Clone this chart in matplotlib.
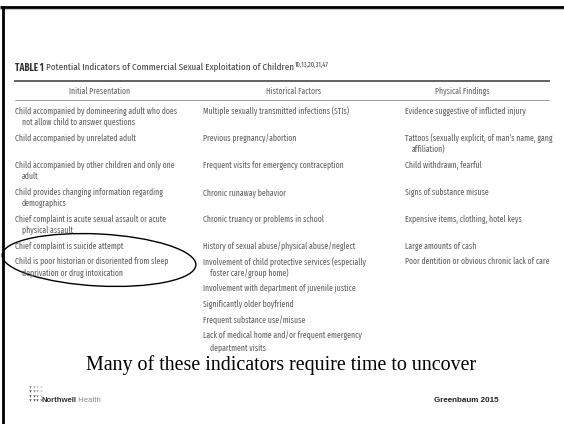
import matplotlib
matplotlib.use("Agg")
import matplotlib.pyplot as plt
from matplotlib.patches import Ellipse
from matplotlib import font_manager

# ---------------- data ----------------
table_title = "TABLE 1"
table_subtitle = "Potential Indicators of Commercial Sexual Exploitation of Children"
table_refs = "10,13,20,31,47"
headers = ["Initial Presentation", "Historical Factors", "Physical Findings"]

initial_presentation = [
    ["Child accompanied by domineering adult who does", "not allow child to answer questions"],
    ["Child accompanied by unrelated adult"],
    ["Child accompanied by other children and only one", "adult"],
    ["Child provides changing information regarding", "demographics"],
    ["Chief complaint is acute sexual assault or acute", "physical assault"],
    ["Chief complaint is suicide attempt"],
    ["Child is poor historian or disoriented from sleep", "deprivation or drug intoxication"],
]
historical_factors = [
    ["Multiple sexually transmitted infections (STIs)"],
    ["Previous pregnancy/abortion"],
    ["Frequent visits for emergency contraception"],
    ["Chronic runaway behavior"],
    ["Chronic truancy or problems in school"],
    ["History of sexual abuse/physical abuse/neglect"],
    ["Involvement of child protective services (especially", "foster care/group home)"],
    ["Involvement with department of juvenile justice"],
    ["Significantly older boyfriend"],
    ["Frequent substance use/misuse"],
    ["Lack of medical home and/or frequent emergency", "department visits"],
]
physical_findings = [
    ["Evidence suggestive of inflicted injury"],
    ["Tattoos (sexually explicit, of man\u2019s name, gang", "affiliation)"],
    ["Child withdrawn, fearful"],
    ["Signs of substance misuse"],
    ["Expensive items, clothing, hotel keys"],
    ["Large amounts of cash"],
    ["Poor dentition or obvious chronic lack of care"],
]
caption = "Many of these indicators require time to uncover"
logo_bold = "Northwell"
logo_light = " Health"
citation = "Greenbaum 2015"

# ---------------- fonts ----------------
names = {f.name for f in font_manager.fontManager.ttflist}
def pick(cands):
    return [n for n in cands if n in names] + ["DejaVu Sans"]
cond = pick(["Fira Sans Extra Condensed", "PT Sans Narrow", "Archivo Narrow", "Roboto Condensed"])
serif = pick(["Liberation Serif", "DejaVu Serif"])
sans = pick(["Liberation Sans"])

W, H = 564, 424
fig = plt.figure(figsize=(W / 100, H / 100), dpi=100)
ax = fig.add_axes([0, 0, 1, 1])
ax.set_xlim(0, W)
ax.set_ylim(H, 0)
ax.axis("off")
renderer = fig.canvas.get_renderer()

def width_at(text, size, **kw):
    t = ax.text(0, 0, text, fontsize=size, **kw)
    w = t.get_window_extent(renderer).width
    t.remove()
    return w

def fit_size(text, target, **kw):
    return 10.0 * target / width_at(text, 10.0, **kw)

# slide border
ax.plot([0, W], [7, 7], color="black", lw=2.0, solid_capstyle="butt")
ax.plot([0, W], [9, 9], color="#bbbbbb", lw=0.6)
ax.plot([3, 3], [6, H], color="black", lw=2.0, solid_capstyle="butt")

body_col = "#606060"
body_kw = dict(family=cond, fontweight="normal")
fs = fit_size(initial_presentation[0][0], 162, **body_kw)

# title
title_kw = dict(family=cond)
full_w = (width_at(table_title, 10, fontweight="bold", **title_kw) +
          width_at(" " + table_subtitle, 10, **title_kw))
tfs = 10.0 * 277 / full_w
t = ax.text(15, 68, table_title, fontsize=tfs, fontweight="bold", color="#333333",
            va="center", ha="left", **title_kw)
fig.canvas.draw()
x_after = t.get_window_extent(renderer).x1 + 2.5
t2 = ax.text(x_after, 68, table_subtitle, fontsize=tfs, color="#444444",
             va="center", ha="left", **title_kw)
fig.canvas.draw()
ax.text(t2.get_window_extent(renderer).x1 + 0.8, 64.5, table_refs, fontsize=tfs * 0.7,
        color="#444444", va="center", ha="left", **title_kw)

# rules
ax.plot([15, 549], [80.5, 80.5], color="#555555", lw=1.3)
ax.plot([15, 549], [100, 100], color="#777777", lw=0.5)

# headers
header_x = [100, 294, 462]
for hx, h in zip(header_x, headers):
    ax.text(hx, 91, h, fontsize=fs, color="#686868", va="center", ha="center", **body_kw)

# body rows
col_x = [15, 203, 405]
indent = 7
L = 11.5
gap = 4.05
columns = [initial_presentation, historical_factors, physical_findings]
nrows = max(len(c) for c in columns)
y = 111
for r in range(nrows):
    nlines = 1
    for c, cx in zip(columns, col_x):
        if r < len(c):
            item = c[r]
            nlines = max(nlines, len(item))
            for k, line in enumerate(item):
                ax.text(cx + (indent if k > 0 else 0), y + k * L, line, fontsize=fs,
                        color=body_col, va="center", ha="left", **body_kw)
    y += nlines * L + gap

# ellipse highlight
ax.add_patch(Ellipse((99, 260), 194, 52, angle=3, fill=False, ec="black", lw=1.0))

# caption
cfs = fit_size(caption, 392, family=serif)
ax.text(281, 365, caption, fontsize=cfs, family=serif, color="black",
        va="center", ha="center")

# logo
grays = ["#c8c8c8", "#a8a8a8", "#808080", "#505050"]
for i in range(4):
    for j in range(4):
        ax.scatter(30 + j * 3.6, 387 + i * 4.3, s=3.0, marker="v",
                   color=grays[min(3, max(0, i - j + 2))], lw=0)
t3 = ax.text(41, 401, logo_bold, fontsize=5.6, fontweight="bold", color="#333333",
             family=sans, va="center", ha="left")
fig.canvas.draw()
ax.text(t3.get_window_extent(renderer).x1, 401, logo_light, fontsize=5.6, color="#888888",
        family=sans, va="center", ha="left")

# citation
ax.text(434, 400, citation, fontsize=5.8, fontweight="bold", color="#222222",
        family=sans, va="center", ha="left")

fig.savefig("out.png", dpi=100)
